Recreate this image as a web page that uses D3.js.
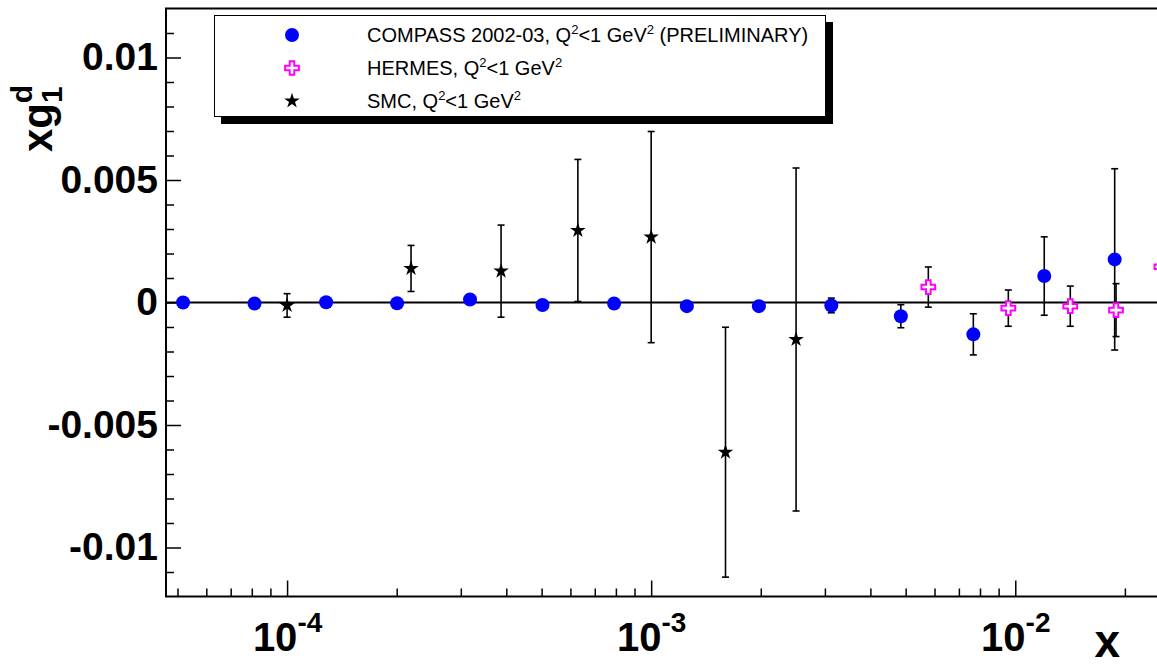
<!DOCTYPE html>
<html>
<head>
<meta charset="utf-8">
<script src="https://cdn.jsdelivr.net/npm/d3@7"></script>
<style>
  html, body { margin: 0; padding: 0; background: #fff; }
  svg { display: block; font-family: "Liberation Sans", Arial, Helvetica, sans-serif; }
</style>
</head>
<body>
<div id="chart"></div>
<script>
// xg1^d at Q2 < 1 GeV2, three experiments

const compassX = [5.18e-5, 8.14e-5, 1.28e-4, 2.005e-4, 3.18e-4, 5.03e-4, 7.91e-4, 1.253e-3, 1.976e-3, 3.124e-3, 4.85e-3, 7.67e-3, 1.201e-2, 1.875e-2];
const compassY = [0, -0.00004, 0.00001, -0.00003, 0.00012, -0.0001, -0.00004, -0.00015, -0.00015, -0.00012, -0.00056, -0.0013, 0.00108, 0.00176];
const compassErr = [0.00002, 0.00003, 0.00004, 0.00005, 0.00007, 0.0001, 0.00013, 0.00016, 0.0002, 0.0003, 0.00047, 0.00084, 0.0016, 0.0037];

const hermesX = [5.77e-3, 9.57e-3, 1.416e-2, 1.891e-2, 2.52e-2];
const hermesY = [0.00063, -0.00023, -0.00015, -0.00031, 0.00146];
const hermesErr = [0.00082, 0.00074, 0.00082, 0.00108, 0.0009];

const smcX = [1.0e-4, 2.19e-4, 3.87e-4, 6.29e-4, 1.0e-3, 1.60e-3, 2.50e-3];
const smcY = [-0.00012, 0.00139, 0.00128, 0.00294, 0.00267, -0.00611, -0.00151];
const smcErr = [0.00048, 0.00094, 0.00188, 0.0029, 0.00431, 0.0051, 0.007];

const yMajor = [-0.01, -0.005, 0, 0.005, 0.01];
const yLabels = ["-0.01", "-0.005", "0", "0.005", "0.01"];
const xMajor = [1e-4, 1e-3, 1e-2];
const xExp = ["-4", "-3", "-2"];

const legendLabels = [
  ["COMPASS 2002-03, Q", "2", "<1 GeV", "2", " (PRELIMINARY)"],
  ["HERMES, Q", "2", "<1 GeV", "2"],
  ["SMC, Q", "2", "<1 GeV", "2"]
];

const width = 1157;
const height = 669;
const margin = { top: 8.5, right: -32, bottom: 72.5, left: 166 };

const svg = d3.select("#chart")
  .append("svg")
  .attr("width", width)
  .attr("height", height);

const xScale = d3.scaleLog()
  .domain([4.65e-5, 0.03])
  .range([margin.left, width - margin.right]);

const yScale = d3.scaleLinear()
  .domain([-0.012, 0.012])
  .range([height - margin.bottom, margin.top]);

const toPts = (xs, ys, es) => xs.map((x, i) => ({ x: x, y: ys[i], e: es[i] }));
const compass = toPts(compassX, compassY, compassErr);
const hermes = toPts(hermesX, hermesY, hermesErr);
const smc = toPts(smcX, smcY, smcErr);

// zero line
svg.append("line")
  .attr("x1", margin.left).attr("x2", width)
  .attr("y1", yScale(0)).attr("y2", yScale(0))
  .attr("stroke", "#000").attr("stroke-width", 2);

// y axis: minor then major ticks
const yMinor = d3.range(-11, 12).filter(d => d % 5 !== 0).map(d => d / 1000);

svg.append("g")
  .attr("transform", `translate(${margin.left},0)`)
  .call(d3.axisLeft(yScale).tickValues(yMinor).tickSizeInner(-8).tickSizeOuter(0).tickFormat(""))
  .call(g => g.select(".domain").remove())
  .call(g => g.selectAll("line").attr("stroke-width", 1.5));

svg.append("g")
  .attr("transform", `translate(${margin.left},0)`)
  .call(d3.axisLeft(yScale).tickValues(yMajor).tickSizeInner(-15).tickSizeOuter(0).tickPadding(8)
    .tickFormat((d, i) => yLabels[i]))
  .call(g => g.select(".domain").remove())
  .call(g => g.selectAll("line").attr("stroke-width", 1.5))
  .call(g => g.selectAll("text")
    .attr("font-family", "'Liberation Sans', Arial, sans-serif")
    .attr("font-size", 39).attr("font-weight", "bold").attr("fill", "#000"));

// x axis
const xMinor = [];
for (let p = -5; p <= -2; p++) {
  for (let m = 2; m <= 9; m++) xMinor.push(m * Math.pow(10, p));
}

svg.append("g")
  .attr("transform", `translate(0,${height - margin.bottom})`)
  .call(d3.axisBottom(xScale).tickValues(xMinor.filter(d => d >= 4.65e-5)).tickSizeInner(-8).tickSizeOuter(0).tickFormat(""))
  .call(g => g.select(".domain").remove())
  .call(g => g.selectAll("line").attr("stroke-width", 1.5));

svg.append("g")
  .attr("transform", `translate(0,${height - margin.bottom})`)
  .call(d3.axisBottom(xScale).tickValues(xMajor).tickSizeInner(-16).tickSizeOuter(0).tickFormat(""))
  .call(g => g.select(".domain").remove())
  .call(g => g.selectAll("line").attr("stroke-width", 1.5))
  .call(g => {
    const t = g.selectAll(".tick").append("text")
      .attr("y", 54)
      .attr("text-anchor", "middle")
      .attr("font-size", 40).attr("font-weight", "bold").attr("fill", "#000");
    t.append("tspan").text("10");
    t.append("tspan").attr("dy", -19).attr("font-size", 28).text((d, i) => xExp[i]);
  });

// frame
svg.append("path")
  .attr("d", `M${width + 5},${margin.top}H${margin.left}V${height - margin.bottom}H${width + 5}`)
  .attr("fill", "none").attr("stroke", "#000").attr("stroke-width", 2);

// axis titles
svg.append("text")
  .attr("x", 1120).attr("y", 657)
  .attr("text-anchor", "end")
  .attr("font-size", 46).attr("font-weight", "bold")
  .text("x");

const yTitle = svg.append("text")
  .attr("transform", "translate(52,152) rotate(-90)")
  .attr("font-size", 42).attr("font-weight", "bold");
yTitle.append("tspan").text("xg");
yTitle.append("tspan").attr("font-size", 30).attr("dy", 10).text("1");
yTitle.append("tspan").attr("font-size", 30).attr("dx", -17).attr("dy", -30).text("d");

// error bars
const drawErrors = (data, cls) => {
  const g = svg.append("g").attr("class", cls);
  g.selectAll("line.bar").data(data).enter().append("line")
    .attr("x1", d => xScale(d.x)).attr("x2", d => xScale(d.x))
    .attr("y1", d => yScale(d.y - d.e)).attr("y2", d => yScale(d.y + d.e))
    .attr("stroke", "#000").attr("stroke-width", 1.6);
  [-1, 1].forEach(s => {
    g.selectAll(`line.cap${s}`).data(data).enter().append("line")
      .attr("x1", d => xScale(d.x) - 3.5).attr("x2", d => xScale(d.x) + 3.5)
      .attr("y1", d => yScale(d.y + s * d.e)).attr("y2", d => yScale(d.y + s * d.e))
      .attr("stroke", "#000").attr("stroke-width", 1.6);
  });
};

drawErrors(smc, "smc-err");
drawErrors(compass, "compass-err");
drawErrors(hermes, "hermes-err");

const starPath = d3.symbol().type(d3.symbolStar).size(75);
const circlePath = d3.symbol().type(d3.symbolCircle).size(Math.PI * 49);
const crossPath = d3.symbol().type(d3.symbolCross).size(105);

svg.append("g").selectAll("path").data(smc).enter().append("path")
  .attr("transform", d => `translate(${xScale(d.x)},${yScale(d.y)})`)
  .attr("d", starPath).attr("fill", "#000");

svg.append("g").selectAll("path").data(compass).enter().append("path")
  .attr("transform", d => `translate(${xScale(d.x)},${yScale(d.y)})`)
  .attr("d", circlePath).attr("fill", "#0000ff");

svg.append("g").selectAll("path").data(hermes).enter().append("path")
  .attr("transform", d => `translate(${xScale(d.x)},${yScale(d.y)})`)
  .attr("d", crossPath).attr("fill", "#fff").attr("stroke", "#ff00ff").attr("stroke-width", 2);

// legend
const legend = svg.append("g");
legend.append("rect")
  .attr("x", 221).attr("y", 22).attr("width", 612).attr("height", 102)
  .attr("fill", "#000");
legend.append("rect")
  .attr("x", 214.5).attr("y", 15.5).attr("width", 611).attr("height", 101)
  .attr("fill", "#fff").attr("stroke", "#000").attr("stroke-width", 1);

const legendMarks = [
  { path: circlePath, fill: "#0000ff", stroke: "none" },
  { path: crossPath, fill: "#fff", stroke: "#ff00ff" },
  { path: starPath, fill: "#000", stroke: "none" }
];

legendLabels.forEach((parts, i) => {
  const cy = 35 + i * 33;
  legend.append("path")
    .attr("transform", `translate(292,${cy})`)
    .attr("d", legendMarks[i].path)
    .attr("fill", legendMarks[i].fill)
    .attr("stroke", legendMarks[i].stroke).attr("stroke-width", 2);
  const t = legend.append("text")
    .attr("x", 367).attr("y", cy + 7)
    .attr("font-size", 20).attr("fill", "#000");
  parts.forEach((p, j) => {
    const sup = j % 2 === 1;
    t.append("tspan")
      .attr("font-size", sup ? 13 : 20)
      .attr("dy", sup ? -8 : (j > 0 ? 8 : 0))
      .text(p);
  });
});
</script>
</body>
</html>
